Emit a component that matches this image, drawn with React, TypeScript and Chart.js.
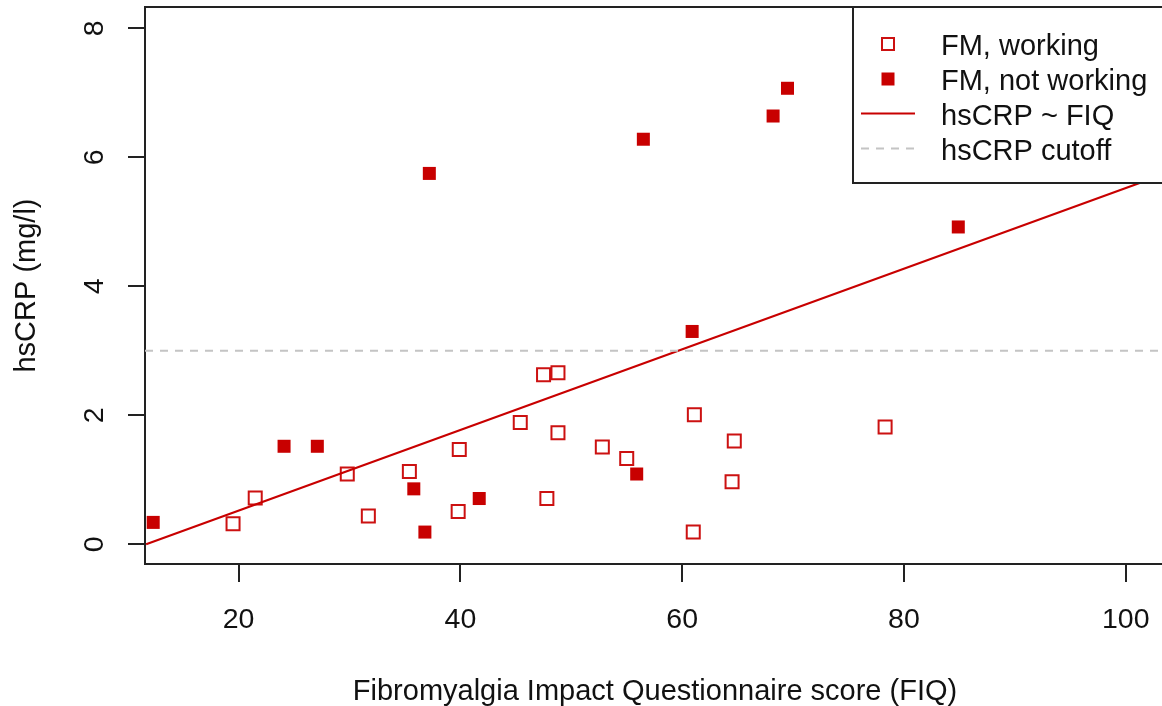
import React, { useEffect, useRef } from "react";
import { Chart, registerables } from "chart.js";

Chart.register(...registerables);

const xTicks = [20, 40, 60, 80, 100];
const yTicks = [0, 2, 4, 6, 8];

const workingX = [19.5, 21.5, 29.8, 31.7, 35.4, 39.9, 39.8, 45.4, 47.5, 48.8, 48.8, 47.8, 52.8, 55.0, 61.1, 61.0, 64.7, 64.5, 78.3];
const workingY = [0.32, 0.72, 1.09, 0.44, 1.13, 1.47, 0.51, 1.89, 2.63, 2.66, 1.73, 0.71, 1.51, 1.33, 2.01, 0.19, 1.6, 0.97, 1.82];

const notWorkingX = [12.3, 24.1, 27.1, 35.8, 36.8, 37.2, 41.7, 55.9, 56.5, 60.9, 68.2, 69.5, 84.9];
const notWorkingY = [0.34, 1.52, 1.52, 0.86, 0.19, 5.75, 0.71, 1.09, 6.28, 3.3, 6.64, 7.07, 4.92];

const fitX = [11.66, 103.3];
const fitY = [0.0, 5.73];

const cutoffX = [11.56, 103.3];
const cutoffY = [3, 3];

const legendLabels = ["FM, working", "FM, not working", "hsCRP ~ FIQ", "hsCRP cutoff"];

const xTitle = "Fibromyalgia Impact Questionnaire score (FIQ)";
const yTitle = "hsCRP (mg/l)";

const RED = "#c80000";
const RED_OPEN = "#cc1111";
const AXIS = "#222222";
const GRAY = "#c4c4c4";
const FONT = '"Liberation Sans", Arial, sans-serif';

const zip = (xs: number[], ys: number[]) => xs.map((x, i) => ({ x, y: ys[i] }));

const decorPlugin = {
  id: "decor",
  afterDatasetsDraw(chart: any) {
    const ctx = chart.ctx as CanvasRenderingContext2D;
    const area = chart.chartArea;
    const xs = chart.scales.x;
    const ys = chart.scales.y;
    ctx.save();
    // top border of plot box
    ctx.strokeStyle = AXIS;
    ctx.lineWidth = 2;
    ctx.beginPath();
    ctx.moveTo(area.left - 1, area.top);
    ctx.lineTo(area.right + 2, area.top);
    ctx.stroke();

    // legend box
    const lx = 853;
    const ly = area.top;
    const lw = area.right - lx + 10;
    const lh = 183 - ly;
    ctx.fillStyle = "#ffffff";
    ctx.fillRect(lx, ly, lw, lh);
    ctx.strokeStyle = AXIS;
    ctx.lineWidth = 2;
    ctx.strokeRect(lx, ly, lw, lh);

    const baselines = [55, 90, 125, 160];
    const symX = 888;
    // open square
    ctx.strokeStyle = RED_OPEN;
    ctx.lineWidth = 2;
    ctx.strokeRect(symX - 6, baselines[0] - 11 - 6, 12, 12);
    // filled square
    ctx.fillStyle = RED;
    ctx.fillRect(symX - 6.5, baselines[1] - 11 - 6.5, 13, 13);
    // solid line
    ctx.strokeStyle = RED;
    ctx.lineWidth = 2;
    ctx.beginPath();
    ctx.moveTo(861, baselines[2] - 11.5);
    ctx.lineTo(915, baselines[2] - 11.5);
    ctx.stroke();
    // dashed line
    ctx.strokeStyle = GRAY;
    ctx.setLineDash([8, 7]);
    ctx.beginPath();
    ctx.moveTo(861, baselines[3] - 11.5);
    ctx.lineTo(915, baselines[3] - 11.5);
    ctx.stroke();
    ctx.setLineDash([]);

    ctx.fillStyle = "#111111";
    ctx.font = `29px ${FONT}`;
    ctx.textAlign = "left";
    ctx.textBaseline = "alphabetic";
    legendLabels.forEach((t, i) => ctx.fillText(t, 941, baselines[i]));

    // tick labels
    ctx.font = `28.5px ${FONT}`;
    ctx.textAlign = "center";
    xTicks.forEach((v) => {
      ctx.fillText(String(v), xs.getPixelForValue(v), 628);
    });
    yTicks.forEach((v) => {
      const py = ys.getPixelForValue(v);
      ctx.save();
      ctx.translate(103, py);
      ctx.rotate(-Math.PI / 2);
      ctx.fillText(String(v), 0, 0);
      ctx.restore();
    });

    // axis titles
    ctx.font = `29px ${FONT}`;
    ctx.fillText(xTitle, 655, 700);
    ctx.save();
    ctx.translate(35, (area.top + area.bottom) / 2);
    ctx.rotate(-Math.PI / 2);
    ctx.fillText(yTitle, 0, 0);
    ctx.restore();

    ctx.restore();
  },
};

export default function App() {
  const ref = useRef<HTMLCanvasElement | null>(null);

  useEffect(() => {
    if (!ref.current) return;
    const chart = new Chart(ref.current, {
      type: "scatter",
      data: {
        datasets: [
          {
            label: legendLabels[0],
            data: zip(workingX, workingY),
            pointStyle: "rect",
            pointRadius: 9.2,
            pointBackgroundColor: "rgba(255,255,255,0)",
            pointBorderColor: RED_OPEN,
            pointBorderWidth: 2,
            order: 3,
          },
          {
            label: legendLabels[1],
            data: zip(notWorkingX, notWorkingY),
            pointStyle: "rect",
            pointRadius: 9.2,
            pointBackgroundColor: RED,
            pointBorderColor: RED,
            pointBorderWidth: 0,
            order: 2,
          },
          {
            label: legendLabels[2],
            data: zip(fitX, fitY),
            showLine: true,
            pointRadius: 0,
            borderColor: RED,
            borderWidth: 2.2,
            order: 1,
          },
          {
            label: legendLabels[3],
            data: zip(cutoffX, cutoffY),
            showLine: true,
            pointRadius: 0,
            borderColor: GRAY,
            borderWidth: 2,
            borderDash: [8, 7],
            order: 0,
          },
        ],
      },
      options: {
        animation: false,
        responsive: false,
        devicePixelRatio: 1,
        layout: { autoPadding: false, padding: { top: 7, left: 0, right: 0, bottom: 0 } },
        plugins: {
          legend: { display: false },
          tooltip: { enabled: false },
        },
        scales: {
          x: {
            type: "linear",
            min: 11.56,
            max: 103.27,
            afterFit: (s: any) => {
              s.height = 142;
              s.paddingLeft = 0;
              s.paddingRight = 0;
            },
            afterBuildTicks: (s: any) => {
              s.ticks = xTicks.map((v) => ({ value: v }));
            },
            ticks: { display: false },
            grid: {
              display: true,
              drawOnChartArea: false,
              drawTicks: true,
              tickLength: 18,
              color: AXIS,
              lineWidth: 2,
            },
            border: { display: true, color: AXIS, width: 2 },
          },
          y: {
            type: "linear",
            min: -0.305,
            max: 8.33,
            afterFit: (s: any) => {
              s.width = 145;
              s.paddingTop = 0;
              s.paddingBottom = 0;
            },
            afterBuildTicks: (s: any) => {
              s.ticks = yTicks.map((v) => ({ value: v }));
            },
            ticks: { display: false },
            grid: {
              display: true,
              drawOnChartArea: false,
              drawTicks: true,
              tickLength: 17,
              color: AXIS,
              lineWidth: 2,
            },
            border: { display: true, color: AXIS, width: 2 },
          },
        },
      },
      plugins: [decorPlugin],
    });
    return () => chart.destroy();
  }, []);

  return (
    <div style={{ position: "absolute", left: 0, top: 0, width: 1162, height: 706, background: "#fff" }}>
      <canvas ref={ref} width={1162} height={706} style={{ display: "block" }} />
    </div>
  );
}
